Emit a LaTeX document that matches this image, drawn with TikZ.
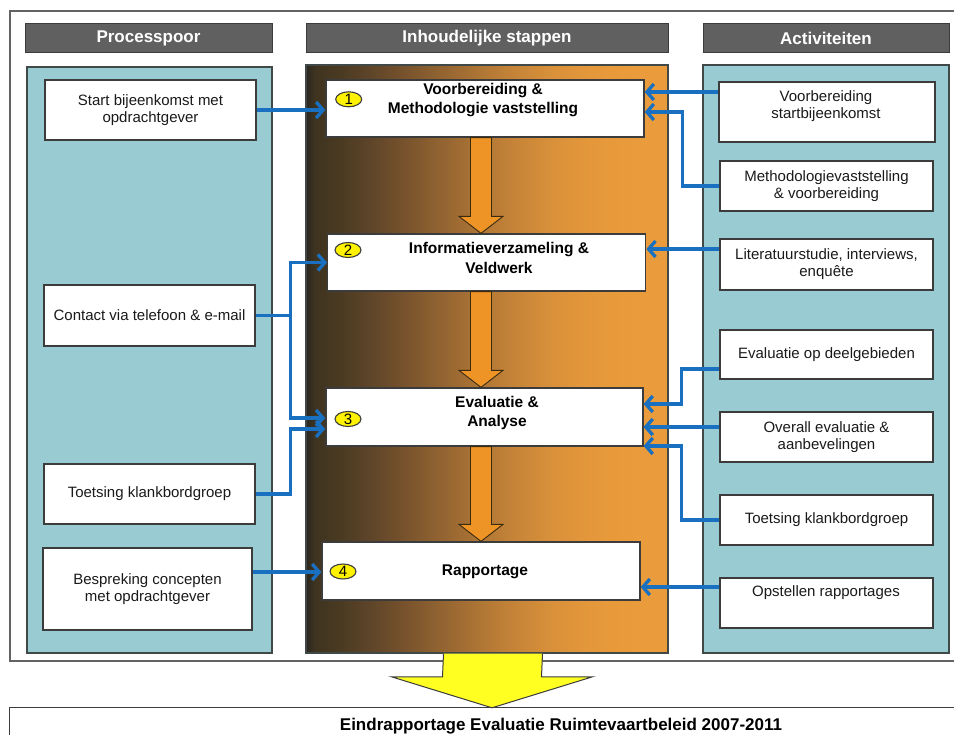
\documentclass[tikz,border=0pt]{standalone}
\usepackage{fontspec}
\setmainfont{Liberation Sans}
\usetikzlibrary{arrows.meta,shapes.geometric,calc}
\definecolor{panelteal}{HTML}{99CCD2}
\definecolor{panelline}{HTML}{404848}
\definecolor{hdrgray}{HTML}{606060}
\definecolor{hdrline}{HTML}{3C3C3C}
\definecolor{conblue}{HTML}{1A70C0}
\definecolor{stepor}{HTML}{EE9426}
\definecolor{steporline}{HTML}{3A2A10}
\definecolor{boxline}{HTML}{3C3C3C}
\definecolor{arrowyel}{HTML}{FFFF22}
\definecolor{txtdark}{HTML}{1A1A1A}
\definecolor{ga}{HTML}{2A2620}
\definecolor{gb}{HTML}{3F3420}
\definecolor{gc}{HTML}{4A3A22}
\definecolor{gd}{HTML}{5E4529}
\definecolor{ge}{HTML}{74502C}
\definecolor{gf}{HTML}{8A5F30}
\definecolor{gg}{HTML}{A06C33}
\definecolor{gh}{HTML}{B67A36}
\definecolor{gi}{HTML}{C98638}
\definecolor{gj}{HTML}{D8903A}
\definecolor{gk}{HTML}{E2963B}
\definecolor{gl}{HTML}{E89A3B}
\definecolor{gm}{HTML}{EA9B3B}
\pgfdeclarehorizontalshading{midgrad}{100bp}{color(0bp)=(ga); color(25bp)=(ga); color(26.24bp)=(gb); color(29.7bp)=(gc); color(33.84bp)=(gd); color(37.98bp)=(ge); color(42.13bp)=(gf); color(46.27bp)=(gg); color(50.41bp)=(gh); color(54.56bp)=(gi); color(58.7bp)=(gj); color(62.85bp)=(gk); color(66.99bp)=(gl); color(71.13bp)=(gm); color(100bp)=(gm)}
\newcommand\orarr[2]{%
  \path (481,0 |- #1.south) coordinate (oas) (481,0 |- #2.north) coordinate (oae);
  \draw[orarrow] ($(oas)+(-10.5,0)$) -- ($(oae)+(-10.5,-17)$) -- ($(oae)+(-22,-17)$) -- (oae)
    -- ($(oae)+(22,-17)$) -- ($(oae)+(10.5,-17)$) -- ($(oas)+(10.5,0)$) -- cycle;}
\begin{document}
\begin{tikzpicture}[x=1pt,y=-1pt,
  hdr/.style={fill=hdrgray, draw=hdrline, line width=1pt, text=white, font=\bfseries\fontsize{17}{20}\selectfont, inner sep=0pt},
  panel/.style={fill=panelteal, draw=panelline, line width=1.2pt, inner sep=0pt},
  wbox/.style={fill=white, draw=boxline, line width=1.3pt, align=center, text=txtdark, font=\fontsize{15}{17}\selectfont, inner sep=0pt},
  btext/.style={align=center, text=txtdark, font=\fontsize{15}{17}\selectfont, inner sep=0pt},
  stepbox/.style={fill=white, draw=boxline, line width=1.3pt, inner sep=0pt},
  steptext/.style={align=center, text=black, font=\bfseries\fontsize{15.5}{19.5}\selectfont, inner sep=0pt},
  numell/.style={ellipse, draw=boxline, line width=1.1pt, fill=yellow, minimum width=26pt, minimum height=15pt, inner sep=0pt, font=\fontsize{15}{15}\selectfont},
  conn/.style={draw=conblue, line width=3.3pt, -{Straight Barb[length=7pt,width=16pt]}},
  orarrow/.style={fill=stepor, draw=steporline, line width=0.9pt, line join=miter},
  yelarrow/.style={fill=arrowyel, draw=hdrline, line width=1pt, line join=miter}
]
\useasboundingbox (0,0) rectangle (954,735);
\fill[white] (0,0) rectangle (954,735);
% outer frame
\draw[draw=hdrline!80, line width=1.2pt] (954,11) -- (10,11) -- (10,661) -- (954,661);
% headers
\node[hdr, minimum width=247pt, minimum height=29pt] (H1) at (148.5,38.5) {Processpoor};
\node[hdr, minimum width=362pt, minimum height=29pt] (H2) at (487,38.5) {Inhoudelijke stappen};
\node[hdr, minimum width=246pt, minimum height=29pt] (H3) at (826,38.5) {Activiteiten};
% panels
\node[panel, minimum width=245pt, minimum height=586pt] (P1) at (149.5,360) {};
\node[draw=panelline, line width=1.2pt, shading=midgrad, minimum width=362pt, minimum height=588pt, inner sep=0pt] (P2) at (487,359) {};
\node[panel, minimum width=246pt, minimum height=588pt] (P3) at (826,359) {};
% step boxes
\node[stepbox, minimum width=318pt, minimum height=57pt] (B1) at (485,108.5) {};
\node[stepbox, minimum width=318pt, minimum height=57pt] (B2) at (486.7,262.5) {};
\node[stepbox, minimum width=317pt, minimum height=58pt] (B3) at (484.4,417) {};
\node[stepbox, minimum width=318pt, minimum height=58pt] (B4) at (481,571) {};
\node[steptext] (T1) at (483,100) {Voorbereiding \&\\Methodologie vaststelling};
\node[steptext] (T2) at (499,258) {Informatieverzameling \&\\Veldwerk};
\node[steptext] (T3) at (497,413) {Evaluatie \&\\Analyse};
\node[steptext] (T4) at (485,572) {Rapportage};
\node[numell] (N1) at (348.7,99.3) {1};
\node[numell] (N2) at (348,250) {2};
\node[numell] (N3) at (348,419) {3};
\node[numell] (N4) at (343,571.5) {4};
% orange step arrows
\orarr{B1}{B2}
\orarr{B2}{B3}
\orarr{B3}{B4}
% left boxes
\node[wbox, minimum width=211pt, minimum height=60pt] (L1) at (150.5,110) {Start bijeenkomst met\\opdrachtgever};
\node[wbox, minimum width=211pt, minimum height=61pt] (L2) at (149.5,315.5) {Contact via telefoon \& e-mail};
\node[wbox, minimum width=211pt, minimum height=60pt] (L3) at (149.5,494) {Toetsing klankbordgroep};
\node[wbox, minimum width=209pt, minimum height=82pt] (L4) at (147.5,589) {Bespreking concepten\\met opdrachtgever};
% right boxes
\node[wbox, minimum width=216pt, minimum height=60pt] (R1) at (827,112) {};
\node[btext] (R1t) at (826,106.5) {Voorbereiding\\startbijeenkomst};
\node[wbox, minimum width=213pt, minimum height=50pt] (R2) at (826.5,186) {Methodologievaststelling\\\& voorbereiding};
\node[wbox, minimum width=213pt, minimum height=51pt] (R3) at (826.5,264.5) {Literatuurstudie, interviews,\\enquête};
\node[wbox, minimum width=213pt, minimum height=49pt] (R4) at (826.5,354.5) {Evaluatie op deelgebieden};
\node[wbox, minimum width=213pt, minimum height=50pt] (R5) at (826.5,437) {Overall evaluatie \&\\aanbevelingen};
\node[wbox, minimum width=213pt, minimum height=50pt] (R6) at (826.5,520) {Toetsing klankbordgroep};
\node[wbox, minimum width=213pt, minimum height=50pt] (R7) at (826.5,603) {};
\node[btext] (R7t) at (826,593) {Opstellen rapportages};
% connectors left
\draw[conn] (L1.east) -- (L1.east -| B1.west);
\draw[conn] (L2.east) -- ++(35,0) |- (B2.west);
\draw[conn] (L2.east) -- ++(35,0) |- ([yshift=-1pt]B3.west);
\draw[conn] (L3.east) -- ++(35,0) |- ([yshift=-12pt]B3.west);
\draw[conn] ([yshift=17pt]L4.east) -- ([yshift=17pt]L4.east -| B4.west);
% connectors right
\draw[conn] ([yshift=20pt]R1.west) -- ([yshift=20pt]R1.west -| B1.east);
\draw[conn] (R2.west) -- ++(-37,0) |- ([yshift=-3.5pt]B1.east);
\draw[conn] ([yshift=15.5pt]R3.west) -- ([yshift=15.5pt]R3.west -| B2.east);
\draw[conn] ([yshift=-14.5pt]R4.west) -- ++(-38,0) |- ([yshift=13pt]B3.east);
\draw[conn] ([yshift=10pt]R5.west) -- ([yshift=10pt]R5.west -| B3.east);
\draw[conn] (R6.west) -- ++(-38,0) |- ([yshift=-29pt]B3.east);
\draw[conn] ([yshift=16pt]R7.west) -- ([yshift=16pt]R7.west -| B4.east);
% bottom box
\node[minimum width=944pt, minimum height=34pt, inner sep=0pt] (E) at (482,725) {};
\draw[draw=hdrline, line width=1.2pt] (E.south west) -- (E.north west) -- (E.north east);
\node[text=black, font=\bfseries\fontsize{17}{20}\selectfont, inner sep=0pt] (Et) at (561,726) {Eindrapportage Evaluatie Ruimtevaartbeleid 2007-2011};
% yellow arrow
\path (493,0 |- P2.south) coordinate (ys) (492,0 |- E.north) coordinate (ye);
\draw[yelarrow] ($(ys)+(-49.5,0)$) -- ($(ye)+(-49.5,-31)$) -- ($(ye)+(-100.5,-31)$) -- (ye)
  -- ($(ye)+(100.5,-31)$) -- ($(ye)+(49.5,-31)$) -- ($(ys)+(49.5,0)$);
\end{tikzpicture}
\end{document}
